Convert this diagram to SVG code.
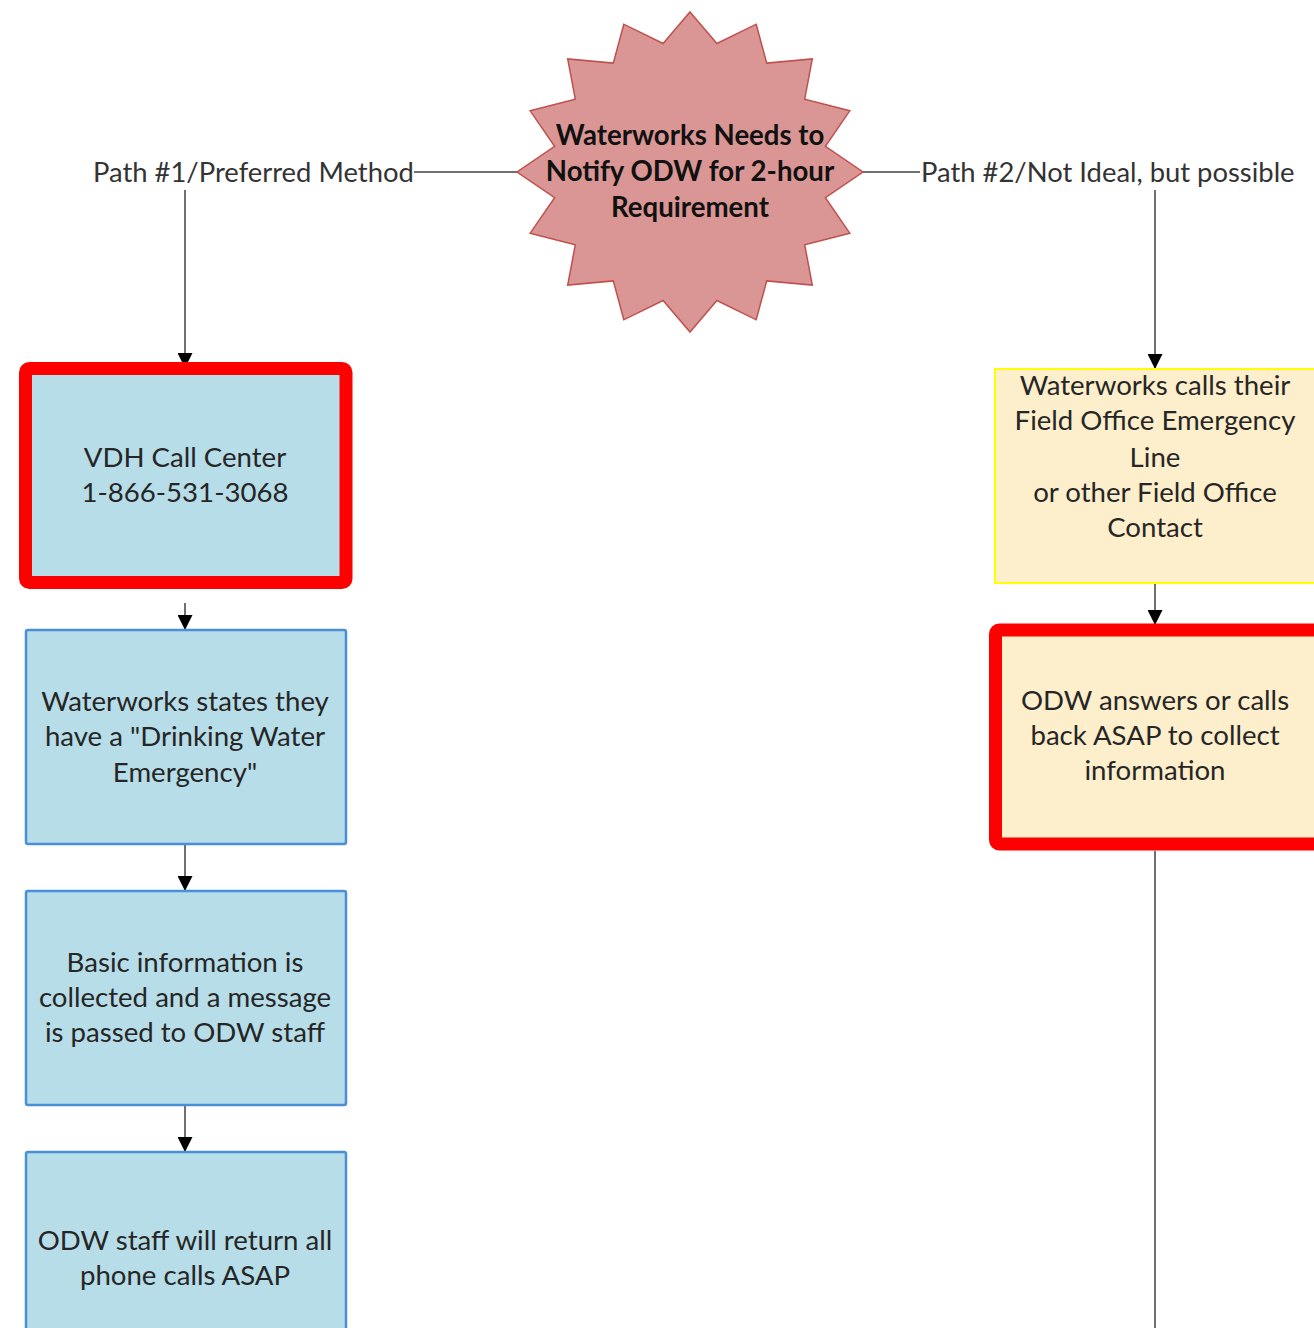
<svg xmlns="http://www.w3.org/2000/svg" width="1314" height="1328" viewBox="0 0 1314 1328">
<defs>
<style>
.t{font-family:Lato,"Liberation Sans",sans-serif;font-size:27.6px;fill:#262626;text-anchor:middle}
.b{font-weight:bold;fill:#111}
.lbl{font-family:Lato,"Liberation Sans",sans-serif;font-size:27.4px;fill:#333}
.blue{fill:#B7DDE8;stroke:#4A90D9;stroke-width:2.5}
.redb{fill:#B7DDE8;stroke:#FF0000;stroke-width:13}
.yel{fill:#FDEFCB;stroke:#FFFF00;stroke-width:2}
.redy{fill:#FDEFCB;stroke:#FF0000;stroke-width:13}
.c{stroke:#404040;stroke-width:1.5;fill:none}
</style>
<marker id="ah" markerUnits="userSpaceOnUse" markerWidth="15" markerHeight="15" refX="15" refY="7.5" orient="auto">
<path d="M0,0 L15,7.5 L0,15 Z" fill="#000"/>
</marker>
</defs>
<rect width="1314" height="1328" fill="#fff"/>
<g id="connectors">
<line class="c" x1="517" y1="172" x2="414" y2="172"/>
<line class="c" x1="185" y1="190" x2="185" y2="368" marker-end="url(#ah)"/>
<line class="c" x1="863" y1="172" x2="920" y2="172"/>
<line class="c" x1="1155" y1="190" x2="1155" y2="369" marker-end="url(#ah)"/>
<line class="c" x1="185" y1="603" x2="185" y2="630" marker-end="url(#ah)"/>
<line class="c" x1="185" y1="845" x2="185" y2="891" marker-end="url(#ah)"/>
<line class="c" x1="185" y1="1106" x2="185" y2="1152" marker-end="url(#ah)"/>
<line class="c" x1="1155" y1="584" x2="1155" y2="625" marker-end="url(#ah)"/>
<line class="c" x1="1155" y1="851" x2="1155" y2="1328"/>
<text class="lbl" x="93" y="182">Path #1/Preferred Method</text>
<text class="lbl" x="921" y="182">Path #2/Not Ideal, but possible</text>
</g>
<g id="start">
<polygon points="690,12 716.9,43.5 756.2,24.2 766.7,63.1 812.3,58.9 804.7,99.2 849.8,110.8 825.4,146.4 863,172 825.4,197.6 849.8,233.2 804.7,244.8 812.3,285.1 766.7,280.9 756.2,319.8 716.9,300.5 690,332 663.1,300.5 623.8,319.8 613.3,280.9 567.7,285.1 575.3,244.8 530.2,233.2 554.6,197.6 517,172 554.6,146.4 530.2,110.8 575.3,99.2 567.7,58.9 613.3,63.1 623.8,24.2 663.1,43.5" fill="#D99694" stroke="#C0504D" stroke-width="1.5"/>
<text class="t b" x="690" y="145">Waterworks Needs to</text>
<text class="t b" x="690" y="181">Notify ODW for 2-hour</text>
<text class="t b" x="690" y="217">Requirement</text>
</g>
<g id="vdh">
<rect class="redb" x="25.5" y="368.5" width="320.5" height="214" rx="4"/>
<text class="t" x="185" y="467">VDH Call Center</text>
<text class="t" x="185" y="502">1-866-531-3068</text>
</g>
<g id="states">
<rect class="blue" x="26" y="630" width="320" height="214" rx="2"/>
<text class="t" x="185" y="711">Waterworks states they</text>
<text class="t" x="185" y="746">have a "Drinking Water</text>
<text class="t" x="185" y="782">Emergency"</text>
</g>
<g id="basic">
<rect class="blue" x="26" y="891" width="320" height="214" rx="2"/>
<text class="t" x="185" y="972">Basic information is</text>
<text class="t" x="185" y="1007">collected and a message</text>
<text class="t" x="185" y="1042">is passed to ODW staff</text>
</g>
<g id="return">
<rect class="blue" x="26" y="1152" width="320" height="230" rx="2"/>
<text class="t" x="185" y="1250">ODW staff will return all</text>
<text class="t" x="185" y="1285">phone calls ASAP</text>
</g>
<g id="fieldoffice">
<rect class="yel" x="995" y="369" width="330" height="214"/>
<text class="t" x="1155" y="395">Waterworks calls their</text>
<text class="t" x="1155" y="430">Field Office Emergency</text>
<text class="t" x="1155" y="467">Line</text>
<text class="t" x="1155" y="502">or other Field Office</text>
<text class="t" x="1155" y="537">Contact</text>
</g>
<g id="odwanswers">
<rect class="redy" x="995.5" y="630" width="330" height="214" rx="4"/>
<text class="t" x="1155" y="710">ODW answers or calls</text>
<text class="t" x="1155" y="745">back ASAP to collect</text>
<text class="t" x="1155" y="780">information</text>
</g>
</svg>
